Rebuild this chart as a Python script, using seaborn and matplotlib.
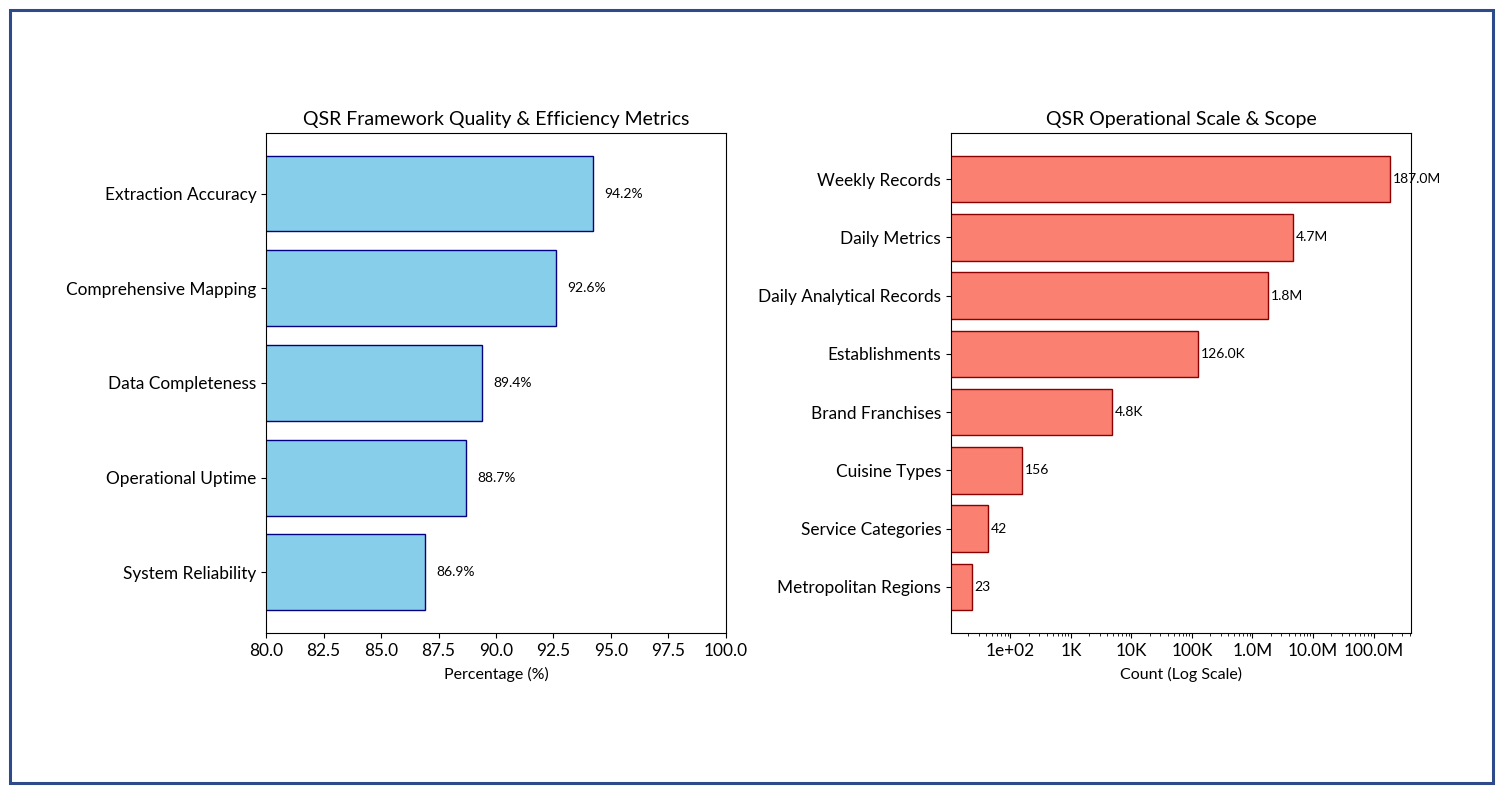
import matplotlib
matplotlib.use("Agg")
import matplotlib.pyplot as plt
import matplotlib.ticker as mticker
from matplotlib.patches import Rectangle
import seaborn as sns

plt.rcParams['font.family'] = ['Lato', 'DejaVu Sans']

# quality metrics (percent)
quality_labels = ['Extraction Accuracy', 'Comprehensive Mapping', 'Data Completeness',
                  'Operational Uptime', 'System Reliability']
quality_values = [94.2, 92.6, 89.4, 88.7, 86.9]

# operational scale counts
scale_labels = ['Weekly Records', 'Daily Metrics', 'Daily Analytical Records', 'Establishments',
                'Brand Franchises', 'Cuisine Types', 'Service Categories', 'Metropolitan Regions']
scale_values = [187_000_000, 4_700_000, 1_800_000, 126_000, 4_800, 156, 42, 23]


def fmt_count(x):
    if x >= 1e6:
        return f'{x/1e6:.1f}M'
    elif x >= 1e3:
        return f'{x/1e3:.1f}K'
    return f'{int(x)}'


def fmt_tick(x, pos):
    if x >= 1e6:
        return f'{x/1e6:.1f}M'
    elif x >= 1e3:
        return f'{x/1e3:.0f}K'
    return f'{x:.0e}'


def bar_ylim(n):
    # same padding as matplotlib's default 5% margin around bars of height 0.8
    pad = 0.05 * (n - 0.2)
    return (n - 1 + 0.4 + pad, -0.4 - pad)


fig = plt.figure(figsize=(15.03, 7.93), dpi=100)
ax1 = fig.add_axes([0.177, 0.2018, 0.306, 0.6305])
ax2 = fig.add_axes([0.6327, 0.2018, 0.306, 0.6305])

# left panel
sns.barplot(x=quality_values, y=quality_labels, ax=ax1, color='skyblue',
            edgecolor='navy', linewidth=1, saturation=1, width=0.8)
ax1.set_xlim(80, 100)
ax1.set_ylim(*bar_ylim(len(quality_values)))
for i, v in enumerate(quality_values):
    ax1.text(v + 0.5, i, f'{v}%', va='center', fontsize=10)
ax1.set_title('QSR Framework Quality & Efficiency Metrics', fontsize=14)
ax1.set_xlabel('Percentage (%)', fontsize=11.5, labelpad=6)
ax1.set_ylabel('')
ax1.tick_params(axis='both', labelsize=12.4)

# right panel
sns.barplot(x=scale_values, y=scale_labels, ax=ax2, color='salmon',
            edgecolor='darkred', linewidth=1, saturation=1, width=0.8)
ax2.set_xscale('log')
ax2.set_xlim(10.4, 4.14e8)
ax2.set_ylim(*bar_ylim(len(scale_values)))
ax2.xaxis.set_major_locator(mticker.LogLocator(base=10))
ax2.xaxis.set_major_formatter(mticker.FuncFormatter(fmt_tick))
for i, v in enumerate(scale_values):
    ax2.text(v * 1.12, i, fmt_count(v), va='center', fontsize=10)
ax2.set_title('QSR Operational Scale & Scope', fontsize=14)
ax2.set_xlabel('Count (Log Scale)', fontsize=11.5, labelpad=6)
ax2.set_ylabel('')
ax2.tick_params(axis='both', labelsize=12.4)

fig.patches.append(Rectangle((0.0067, 0.0126), 0.9866, 0.9748, transform=fig.transFigure,
                             fill=False, edgecolor='#2E4A8B', linewidth=2.2))

fig.savefig('out.png', dpi=100)
